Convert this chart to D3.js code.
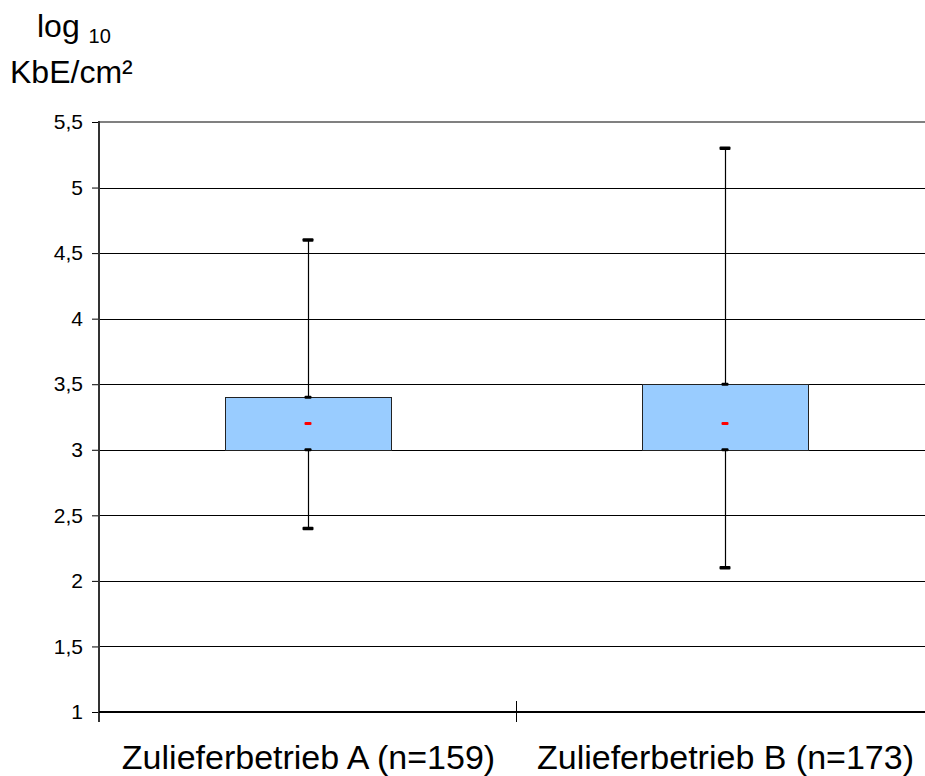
<!DOCTYPE html>
<html>
<head>
<meta charset="utf-8">
<script src="https://cdn.jsdelivr.net/npm/d3@7"></script>
<style>
  body { margin: 0; background: #fff; }
  svg text { font-family: "Liberation Sans", Arial, sans-serif; fill: #000; }
</style>
</head>
<body>
<script>
// data
var categories = ['Zulieferbetrieb A (n=159)', 'Zulieferbetrieb B (n=173)'];
var whiskerLow = [2.4, 2.1];
var boxLow = [3.0, 3.0];
var middle = [3.2, 3.2];
var boxHigh = [3.4, 3.5];
var whiskerHigh = [4.6, 5.3];
var yTicks = [1, 1.5, 2, 2.5, 3, 3.5, 4, 4.5, 5, 5.5];

var width = 925, height = 776;
var plotLeft = 99, plotRight = 933, plotTop = 122, plotBottom = 712;

var svg = d3.select('body').append('svg')
    .attr('width', width)
    .attr('height', height);

var x = d3.scaleBand().domain(categories).range([plotLeft, plotRight]);
var y = d3.scaleLinear().domain([1, 5.5]).range([plotBottom, plotTop]);

var fmt = function(d){ return String(d).replace('.', ','); };

// gridlines
svg.append('g').selectAll('line')
    .data(yTicks.filter(function(d){ return d > 1 && d < 5.5; }))
    .enter().append('line')
    .attr('x1', plotLeft).attr('x2', width)
    .attr('y1', function(d){ return Math.round(y(d)) + 0.5; })
    .attr('y2', function(d){ return Math.round(y(d)) + 0.5; })
    .attr('stroke', '#000').attr('stroke-width', 1);

// top border of plot area
svg.append('line')
    .attr('x1', plotLeft).attr('x2', width)
    .attr('y1', y(5.5)).attr('y2', y(5.5))
    .attr('stroke', '#808080').attr('stroke-width', 2);

// y axis
var yAxis = svg.append('g')
    .attr('transform', 'translate(' + plotLeft + ',0)')
    .call(d3.axisLeft(y).tickValues(yTicks).tickFormat(fmt).tickSize(7).tickPadding(9));
yAxis.select('.domain').remove();
yAxis.attr('font-size', 21).attr('font-family', '"Liberation Sans", Arial, sans-serif');
yAxis.selectAll('.tick line').attr('stroke', '#000');
yAxis.selectAll('.tick text').attr('fill', '#000');

svg.append('line')
    .attr('x1', plotLeft).attr('x2', plotLeft)
    .attr('y1', plotTop - 1).attr('y2', plotBottom + 10)
    .attr('stroke', '#333').attr('stroke-width', 2);

// x axis
svg.append('line')
    .attr('x1', plotLeft).attr('x2', width)
    .attr('y1', plotBottom).attr('y2', plotBottom)
    .attr('stroke', '#000').attr('stroke-width', 2);

svg.append('g').selectAll('line')
    .data(categories.slice(1))
    .enter().append('line')
    .attr('x1', function(d){ return x(d) + 0.5; })
    .attr('x2', function(d){ return x(d) + 0.5; })
    .attr('y1', plotBottom - 11).attr('y2', plotBottom + 10)
    .attr('stroke', '#000').attr('stroke-width', 1);

svg.append('g').selectAll('text')
    .data(categories)
    .enter().append('text')
    .attr('x', function(d){ return x(d) + x.bandwidth() / 2 + 1; })
    .attr('y', 769)
    .attr('text-anchor', 'middle')
    .attr('font-size', 34)
    .text(function(d){ return d; });

// boxes
var boxW = 166;
var idx = d3.range(categories.length);
var cx = function(i){ return x(categories[i]) + x.bandwidth() / 2; };

var g = svg.append('g');

// whisker lines
g.selectAll('line.whisker')
    .data(idx)
    .enter().append('line')
    .attr('class', 'whisker')
    .attr('x1', function(i){ return Math.round(cx(i)) + 0.5; })
    .attr('x2', function(i){ return Math.round(cx(i)) + 0.5; })
    .attr('y1', function(i){ return y(whiskerLow[i]); })
    .attr('y2', function(i){ return y(whiskerHigh[i]); })
    .attr('stroke', '#000').attr('stroke-width', 1.2);

g.selectAll('rect.box')
    .data(idx)
    .enter().append('rect')
    .attr('class', 'box')
    .attr('x', function(i){ return Math.round(cx(i) - boxW / 2) + 0.5; })
    .attr('y', function(i){ return Math.round(y(boxHigh[i])) + 0.5; })
    .attr('width', boxW)
    .attr('height', function(i){ return Math.round(y(boxLow[i])) - Math.round(y(boxHigh[i])); })
    .attr('fill', '#99ccff')
    .attr('stroke', '#222').attr('stroke-width', 1);

// caps at whisker ends
function caps(values, w, h, color){
  g.selectAll(null)
      .data(idx)
      .enter().append('rect')
      .attr('x', function(i){ return cx(i) - w / 2 + 0.5; })
      .attr('y', function(i){ return y(values[i]) - h / 2; })
      .attr('width', w)
      .attr('height', h)
      .attr('rx', 1)
      .attr('fill', color);
}
caps(whiskerLow, 11, 3.5, '#000');
caps(whiskerHigh, 11, 3.5, '#000');
caps(boxLow, 7, 3, '#000');
caps(boxHigh, 7, 3, '#000');
caps(middle, 7, 3, '#ff0000');

// unit label
var unit = svg.append('text')
    .attr('x', 37)
    .attr('y', 37)
    .attr('font-size', 32);
unit.append('tspan').text('log ');
unit.append('tspan').attr('font-size', 20).attr('dy', 6).text('10');

svg.append('text')
    .attr('x', 10)
    .attr('y', 83)
    .attr('font-size', 32)
    .text('KbE/cm²');
</script>
</body>
</html>
